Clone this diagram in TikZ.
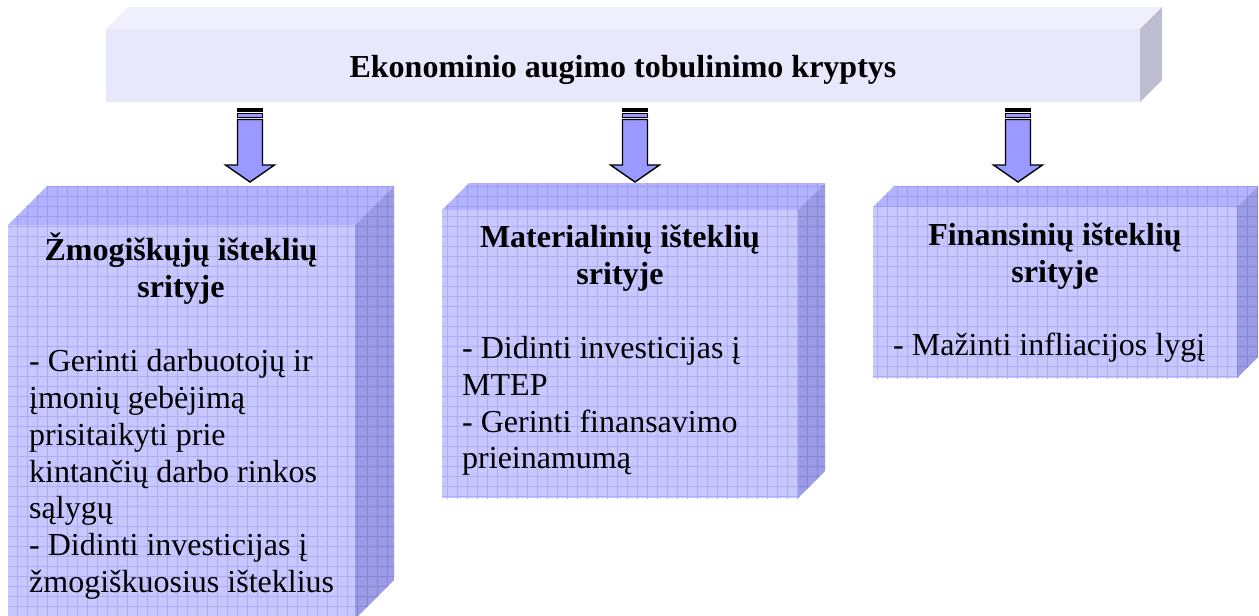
\documentclass[tikz,border=0pt]{standalone}
\usepackage{fontspec}
\setmainfont{Liberation Serif}
\definecolor{banfront}{HTML}{E8E8FC}
\definecolor{bantop}{HTML}{F0F0FE}
\definecolor{banside}{HTML}{BDBDD2}
\definecolor{boxfront}{HTML}{C8C8FF}
\definecolor{boxtop}{HTML}{B3B3FF}
\definecolor{boxside}{HTML}{9B9BE6}
\definecolor{gridfront}{HTML}{ADADF6}
\definecolor{gridtop}{HTML}{9C9CF0}
\definecolor{gridside}{HTML}{8585D6}
\definecolor{arrowfill}{HTML}{9999FF}
\newcommand\gridlines[1]{%
  \foreach \gx in {7,17,...,1267} \draw[#1,line width=0.8pt] (\gx,0) -- (\gx,620);
  \foreach \gy in {6,16,...,626} \draw[#1,line width=0.8pt] (0,\gy) -- (1262,\gy);
}
\newcommand\drawcuboid[5]{%
  % x1 y1 x2 y2 depth
  \begin{scope}
    \clip (#1,#2) -- (#1+#5,#2-#5) -- (#3+#5,#2-#5) -- (#3,#2) -- cycle;
    \fill[boxtop] (#1,#2-#5-2) rectangle (#3+#5+2,#2+2);
    \gridlines{gridtop}
  \end{scope}
  \begin{scope}
    \clip (#3,#2) -- (#3+#5,#2-#5) -- (#3+#5,#4-#5) -- (#3,#4) -- cycle;
    \fill[boxside] (#3-2,#2-#5-2) rectangle (#3+#5+2,#4+2);
    \gridlines{gridside}
  \end{scope}
  \begin{scope}
    \clip (#1,#2) rectangle (#3,#4);
    \fill[boxfront] (#1,#2) rectangle (#3,#4);
    \gridlines{gridfront}
  \end{scope}
}
\newcommand\stripedarrow[1]{%
  \filldraw[arrowline,fill=black] (#1-12.5,108.5) rectangle (#1+12.5,111.5);
  \filldraw[arrowline] (#1-12.5,113.5) rectangle (#1+12.5,117.5);
  \filldraw[arrowline] (#1-12.5,119.5) -- (#1+12.5,119.5) -- (#1+12.5,165) -- (#1+24.5,165)
     -- (#1,182) -- (#1-24.5,165) -- (#1-12.5,165) -- cycle;
}
\begin{document}
\begin{tikzpicture}[x=1pt,y=-1pt,
  arrowline/.style={draw=black,fill=arrowfill,line width=1.4pt,line join=miter},
  ttl/.style={font=\fontsize{32}{36.8}\selectfont\bfseries,inner sep=0pt,anchor=base},
  body/.style={font=\fontsize{32}{36.8}\selectfont,inner sep=0pt,anchor=base west}]
\useasboundingbox (0,0) rectangle (1259,616);
\fill[white] (0,0) rectangle (1259,616);
% banner
\fill[bantop] (106,29) -- (128,7) -- (1162,7) -- (1140,29) -- cycle;
\fill[banside] (1140,29) -- (1162,7) -- (1162,80) -- (1140,102) -- cycle;
\fill[banfront] (106,29) rectangle (1140,102);
\node[ttl] (head) at (623,77) {Ekonominio augimo tobulinimo kryptys};
% arrows
\stripedarrow{250}
\stripedarrow{635}
\stripedarrow{1018}
% boxes
\drawcuboid{8}{225}{355}{619}{39}
\drawcuboid{442}{210}{798}{498}{27}
\drawcuboid{873}{207}{1237}{378}{21}
% left box text
\node[ttl] (t1a) at (181,260) {Žmogiškųjų išteklių};
\node[ttl] (t1b) at (181,297) {srityje};
\node[body] (b1a) at (29,371) {- Gerinti darbuotojų ir};
\node[body] (b1b) at (29,408) {įmonių gebėjimą};
\node[body] (b1c) at (29,445) {prisitaikyti prie};
\node[body] (b1d) at (29,482) {kintančių darbo rinkos};
\node[body] (b1e) at (29,518) {sąlygų};
\node[body] (b1f) at (29,555) {- Didinti investicijas į};
\node[body] (b1g) at (29,592) {žmogiškuosius išteklius};
% middle box text
\node[ttl] (t2a) at (620,247) {Materialinių išteklių};
\node[ttl] (t2b) at (620,284) {srityje};
\node[body] (b2a) at (462,358) {- Didinti investicijas į};
\node[body] (b2b) at (462,395) {MTEP};
\node[body] (b2c) at (462,432) {- Gerinti finansavimo};
\node[body] (b2d) at (462,468) {prieinamumą};
% right box text
\node[ttl] (t3a) at (1055,245) {Finansinių išteklių};
\node[ttl] (t3b) at (1055,282) {srityje};
\node[body] (b3a) at (893,355) {- Mažinti infliacijos lygį};
\end{tikzpicture}
\end{document}
